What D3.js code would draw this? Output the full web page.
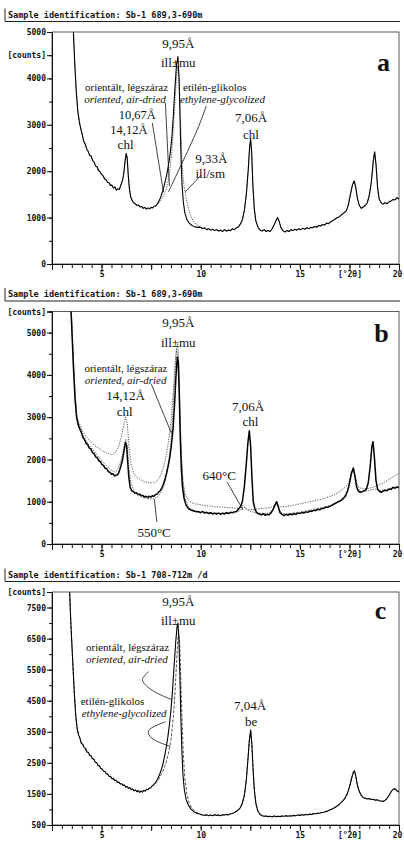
<!DOCTYPE html>
<html>
<head>
<meta charset="utf-8">
<script src="https://cdn.jsdelivr.net/npm/d3@7"></script>
<style>
  body { margin: 0; background: #fff; }
  svg { display: block; }
  .head { font-family: "DejaVu Sans Mono", monospace; font-size: 8.5px; font-weight: bold; fill: #111; }
  .ax text { font-family: "DejaVu Sans Mono", monospace; font-size: 8px; font-weight: bold; fill: #111; }
  .ann { font-family: "Liberation Serif", "Times New Roman", serif; fill: #111; }
</style>
</head>
<body>
<svg id="chart" width="404" height="841"></svg>
<script>
// ---- data: [°2θ, counts] ----

// panel a: Sb-1 689,3-690m, air-dried vs glycolized
const aLow = [[2.7,14000],[3.1,9500],[3.4,6600],[3.55,5300],[3.65,4300],[3.72,3750],[3.8,3300],[3.88,3060],[3.95,2920],[4.02,2800],[4.1,2640],[4.18,2580],[4.25,2480],[4.32,2430],[4.4,2340],[4.47,2330],[4.55,2230],[4.62,2200],[4.7,2110],[4.78,2090],[4.85,2010],[4.92,1990],[5.0,1930],[5.08,1900],[5.15,1830],[5.22,1820],[5.3,1760],[5.38,1750],[5.45,1690],[5.52,1700],[5.6,1640],[5.68,1660],[5.75,1590],[5.82,1620],[5.9,1610],[5.97,1700],[6.05,1790],[6.12,1950],[6.18,2200],[6.24,2380],[6.29,2300],[6.34,1950],[6.4,1640],[6.46,1460],[6.54,1370],[6.62,1320],[6.7,1300],[6.78,1260],[6.86,1270],[6.94,1230],[7.02,1240],[7.1,1200],[7.18,1220],[7.26,1180],[7.34,1210],[7.42,1190],[7.5,1220],[7.58,1210],[7.66,1250],[7.74,1250],[7.82,1300]];
const aAirPeak = [[7.9,1360],[7.98,1440],[8.06,1540],[8.14,1660],[8.22,1800],[8.3,1950],[8.38,2150],[8.46,2380],[8.54,2700],[8.62,3200],[8.7,3800],[8.78,4300],[8.85,4470],[8.91,4000],[8.96,3100],[9.01,2250],[9.06,1700],[9.12,1350],[9.2,1100],[9.3,960],[9.42,880],[9.56,830],[9.7,800],[9.85,790]];
const aGlyPeak = [[7.9,1320],[7.98,1370],[8.06,1420],[8.14,1480],[8.22,1560],[8.3,1680],[8.38,1850],[8.46,2080],[8.54,2400],[8.62,2900],[8.7,3500],[8.78,4050],[8.85,4250],[8.92,3850],[8.98,3100],[9.04,2400],[9.1,1900],[9.17,1650],[9.25,1450],[9.35,1250],[9.47,1070],[9.6,940],[9.75,860],[9.9,820]];
const aHigh = [[10.0,790],[10.1,760],[10.2,780],[10.3,740],[10.4,760],[10.5,730],[10.6,750],[10.7,720],[10.8,740],[10.9,710],[11.0,730],[11.1,700],[11.2,740],[11.3,710],[11.4,730],[11.5,720],[11.6,760],[11.7,740],[11.8,780],[11.9,800],[12.0,860],[12.1,950],[12.2,1150],[12.3,1500],[12.4,2050],[12.47,2550],[12.52,2680],[12.57,2400],[12.63,1700],[12.7,1200],[12.78,930],[12.9,780],[13.0,730],[13.1,710],[13.2,740],[13.3,700],[13.4,720],[13.5,700],[13.6,760],[13.7,840],[13.8,940],[13.88,1000],[13.95,930],[14.05,780],[14.15,720],[14.25,690],[14.35,720],[14.45,700],[14.55,740],[14.65,720],[14.75,750],[14.85,730],[14.95,760],[15.05,740],[15.15,770],[15.25,750],[15.35,780],[15.45,760],[15.55,790],[15.65,780],[15.75,810],[15.85,790],[15.95,830],[16.05,820],[16.15,850],[16.25,840],[16.35,880],[16.45,870],[16.55,910],[16.65,930],[16.75,960],[16.85,990],[16.95,1010],[17.05,1040],[17.15,1080],[17.25,1110],[17.35,1150],[17.45,1280],[17.55,1500],[17.65,1700],[17.74,1790],[17.82,1650],[17.9,1420],[18.0,1260],[18.1,1200],[18.2,1230],[18.3,1260],[18.4,1320],[18.5,1480],[18.6,1750],[18.7,2200],[18.77,2420],[18.84,2150],[18.92,1650],[19.0,1400],[19.1,1320],[19.2,1290],[19.3,1320],[19.4,1300],[19.5,1340],[19.6,1360],[19.7,1390],[19.8,1380],[19.9,1430],[20.0,1400]];

// panel b: Sb-1 689,3-690m, air-dried vs heated
const bAir = [[2.7,14000],[3.1,9500],[3.35,6600],[3.48,5300],[3.58,4200],[3.66,3450],[3.74,3000],[3.82,2820],[3.9,2720],[3.98,2640],[4.06,2520],[4.14,2470],[4.22,2380],[4.3,2350],[4.38,2270],[4.46,2250],[4.54,2160],[4.62,2140],[4.7,2060],[4.78,2040],[4.86,1970],[4.94,1950],[5.02,1880],[5.1,1860],[5.18,1790],[5.26,1780],[5.34,1710],[5.42,1700],[5.5,1650],[5.58,1660],[5.66,1610],[5.74,1630],[5.82,1640],[5.9,1730],[5.98,1850],[6.06,2000],[6.13,2200],[6.2,2400],[6.26,2330],[6.31,2000],[6.37,1600],[6.44,1350],[6.52,1260],[6.6,1240],[6.68,1200],[6.76,1210],[6.84,1170],[6.92,1180],[7.0,1140],[7.08,1150],[7.16,1110],[7.24,1130],[7.32,1100],[7.4,1130],[7.48,1110],[7.56,1140],[7.64,1130],[7.72,1170],[7.8,1180],[7.88,1230],[7.96,1260],[8.04,1330],[8.12,1420],[8.2,1530],[8.28,1680],[8.36,1850],[8.44,2050],[8.52,2330],[8.6,2700],[8.68,3300],[8.75,3950],[8.82,4420],[8.87,4300],[8.92,3500],[8.97,2500],[9.02,1800],[9.08,1350],[9.16,1080],[9.26,920],[9.38,840],[9.52,800],[9.66,780],[9.8,760],[9.9,760],[10.0,740],[10.1,770],[10.2,730],[10.3,750],[10.4,720],[10.5,740],[10.6,710],[10.7,730],[10.8,710],[10.9,730],[11.0,700],[11.1,730],[11.2,710],[11.3,740],[11.4,720],[11.5,750],[11.6,740],[11.7,760],[11.8,770],[11.9,820],[12.0,880],[12.1,1000],[12.2,1350],[12.3,1900],[12.38,2400],[12.45,2680],[12.52,2300],[12.58,1600],[12.65,1000],[12.75,800],[12.85,730],[12.95,710],[13.05,690],[13.15,720],[13.25,680],[13.35,700],[13.45,690],[13.55,740],[13.65,820],[13.75,930],[13.83,1000],[13.9,900],[14.0,740],[14.1,700],[14.2,670],[14.3,700],[14.4,680],[14.5,710],[14.6,690],[14.7,720],[14.8,700],[14.9,730],[15.0,720],[15.1,750],[15.2,730],[15.3,760],[15.4,750],[15.5,780],[15.6,770],[15.7,800],[15.8,790],[15.9,820],[16.0,810],[16.1,840],[16.2,840],[16.3,870],[16.4,870],[16.5,890],[16.6,910],[16.7,940],[16.8,960],[16.9,990],[17.0,1010],[17.1,1040],[17.2,1080],[17.3,1130],[17.4,1250],[17.5,1420],[17.6,1680],[17.7,1800],[17.78,1600],[17.86,1350],[17.95,1250],[18.05,1220],[18.15,1240],[18.25,1260],[18.35,1290],[18.45,1450],[18.55,1850],[18.63,2300],[18.69,2420],[18.76,2050],[18.84,1500],[18.92,1300],[19.0,1250],[19.1,1220],[19.2,1250],[19.3,1270],[19.4,1260],[19.5,1300],[19.6,1290],[19.7,1340],[19.8,1320],[19.9,1350],[20.0,1330]];
const b550 = [[2.7,14000],[3.1,9500],[3.35,6700],[3.48,5400],[3.58,4300],[3.66,3550],[3.75,3000],[3.85,2830],[3.95,2720],[4.05,2580],[4.15,2500],[4.25,2420],[4.35,2350],[4.45,2300],[4.55,2230],[4.65,2180],[4.75,2110],[4.85,2060],[4.95,2000],[5.05,1950],[5.15,1900],[5.25,1850],[5.35,1800],[5.45,1760],[5.55,1730],[5.65,1710],[5.75,1730],[5.85,1800],[5.95,1930],[6.05,2100],[6.15,2350],[6.22,2480],[6.3,2300],[6.38,1800],[6.48,1450],[6.6,1300],[6.7,1230],[6.8,1180],[6.9,1150],[7.0,1120],[7.1,1100],[7.2,1090],[7.3,1080],[7.4,1070],[7.5,1070],[7.6,1080],[7.7,1090],[7.8,1110],[7.9,1150],[8.0,1220],[8.1,1320],[8.2,1480],[8.3,1700],[8.4,2000],[8.5,2450],[8.6,3100],[8.7,4000],[8.78,4650],[8.84,4750],[8.9,4200],[8.96,3100],[9.02,2200],[9.1,1500],[9.2,1100],[9.35,900],[9.5,830],[9.7,790],[9.9,770],[10.1,760],[10.3,740],[10.5,740],[10.7,730],[10.9,730],[11.1,720],[11.3,730],[11.5,740],[11.7,750],[11.9,770],[12.0,800],[12.1,860],[12.2,880],[12.3,820],[12.45,780],[12.6,760],[12.8,740],[13.0,730],[13.2,720],[13.4,730],[13.6,770],[13.75,900],[13.83,960],[13.92,860],[14.05,740],[14.2,720],[14.4,720],[14.6,730],[14.8,740],[15.0,750],[15.2,770],[15.4,790],[15.6,810],[15.8,830],[16.0,850],[16.2,870],[16.4,900],[16.6,930],[16.8,980],[17.0,1030],[17.2,1100],[17.4,1250],[17.55,1550],[17.68,1780],[17.78,1600],[17.9,1350],[18.05,1250],[18.25,1240],[18.45,1260],[18.65,1290],[18.85,1300],[19.05,1260],[19.25,1280],[19.45,1300],[19.65,1330],[19.85,1350],[20.0,1360]];
const b640 = [[2.7,14000],[3.1,9500],[3.35,6800],[3.48,5500],[3.58,4400],[3.66,3600],[3.75,3050],[3.85,2880],[3.95,2780],[4.05,2660],[4.15,2590],[4.25,2530],[4.35,2470],[4.45,2420],[4.55,2380],[4.65,2330],[4.75,2300],[4.85,2270],[4.95,2240],[5.05,2200],[5.15,2180],[5.25,2150],[5.35,2140],[5.45,2120],[5.55,2110],[5.65,2150],[5.75,2200],[5.85,2300],[5.95,2450],[6.05,2650],[6.15,2900],[6.22,3000],[6.3,2850],[6.38,2300],[6.48,1900],[6.6,1700],[6.7,1620],[6.8,1570],[6.9,1540],[7.0,1510],[7.1,1490],[7.2,1470],[7.3,1460],[7.4,1450],[7.5,1450],[7.6,1440],[7.7,1460],[7.8,1490],[7.9,1560],[8.0,1650],[8.1,1780],[8.2,1950],[8.3,2200],[8.4,2500],[8.5,2900],[8.6,3500],[8.7,4200],[8.78,4600],[8.84,4500],[8.9,3900],[8.96,2900],[9.02,2100],[9.1,1500],[9.2,1200],[9.35,1050],[9.5,990],[9.7,950],[9.9,940],[10.1,920],[10.3,900],[10.5,900],[10.7,880],[10.9,880],[11.1,870],[11.3,860],[11.5,860],[11.7,850],[11.9,850],[12.0,880],[12.08,930],[12.16,880],[12.3,830],[12.5,810],[12.7,820],[12.9,830],[13.1,840],[13.3,850],[13.5,860],[13.7,900],[13.83,960],[13.95,890],[14.1,880],[14.3,890],[14.5,900],[14.7,920],[14.9,940],[15.1,960],[15.3,980],[15.5,1000],[15.7,1020],[15.9,1040],[16.1,1060],[16.3,1090],[16.5,1120],[16.7,1160],[16.9,1210],[17.1,1270],[17.3,1350],[17.45,1450],[17.6,1650],[17.7,1750],[17.8,1600],[17.9,1400],[18.0,1330],[18.2,1310],[18.4,1310],[18.6,1330],[18.8,1360],[19.0,1400],[19.2,1450],[19.4,1500],[19.6,1560],[19.8,1620],[20.0,1670]];

// panel c: Sb-1 708-712m, air-dried vs glycolized
const cLow = [[2.7,22000],[3.1,13500],[3.3,9500],[3.45,7000],[3.55,5700],[3.63,4700],[3.7,4000],[3.77,3600],[3.84,3400],[3.91,3290],[3.98,3130],[4.05,3100],[4.12,2990],[4.19,2960],[4.26,2850],[4.33,2840],[4.4,2740],[4.47,2730],[4.54,2630],[4.61,2620],[4.68,2520],[4.75,2510],[4.82,2420],[4.89,2410],[4.96,2320],[5.03,2300],[5.1,2230],[5.17,2220],[5.24,2140],[5.31,2140],[5.38,2060],[5.45,2070],[5.52,1990],[5.59,2000],[5.66,1930],[5.73,1940],[5.8,1870],[5.87,1880],[5.94,1820],[6.01,1830],[6.08,1770],[6.15,1790],[6.22,1720],[6.29,1740],[6.36,1680],[6.43,1700],[6.5,1640],[6.57,1660],[6.64,1600],[6.71,1630],[6.78,1570],[6.85,1610],[6.92,1550],[6.99,1600],[7.06,1560],[7.13,1620],[7.2,1590],[7.27,1650],[7.34,1640],[7.41,1690],[7.48,1700],[7.55,1760],[7.62,1790]];
const cAirPeak = [[7.7,1850],[7.78,1930],[7.86,2030],[7.94,2150],[8.02,2300],[8.1,2480],[8.18,2720],[8.26,3000],[8.34,3320],[8.42,3720],[8.5,4200],[8.58,4850],[8.66,5650],[8.74,6400],[8.8,6850],[8.85,7000],[8.9,6500],[8.95,5300],[9.0,3950],[9.05,2900],[9.1,2150],[9.17,1650],[9.26,1330],[9.37,1150],[9.5,1020],[9.65,930],[9.8,880],[9.92,860]];
const cGlyPeak = [[7.7,1830],[7.78,1890],[7.86,1960],[7.94,2040],[8.02,2130],[8.1,2240],[8.18,2380],[8.26,2530],[8.34,2720],[8.42,2950],[8.5,3250],[8.58,3700],[8.66,4300],[8.74,5200],[8.82,6200],[8.88,6750],[8.94,6350],[9.0,5100],[9.06,3850],[9.12,2800],[9.2,2000],[9.3,1500],[9.42,1200],[9.56,1040],[9.72,940],[9.88,880]];
const cHigh = [[10.0,840],[10.1,820],[10.2,810],[10.3,830],[10.4,800],[10.5,820],[10.6,800],[10.7,830],[10.8,810],[10.9,820],[11.0,800],[11.1,830],[11.2,820],[11.3,840],[11.4,830],[11.5,860],[11.6,870],[11.7,900],[11.8,940],[11.9,990],[12.0,1060],[12.1,1200],[12.2,1450],[12.3,1950],[12.38,2600],[12.45,3200],[12.52,3560],[12.58,3100],[12.64,2300],[12.7,1650],[12.78,1200],[12.88,950],[13.0,840],[13.1,800],[13.2,780],[13.3,790],[13.4,770],[13.5,780],[13.6,760],[13.7,790],[13.8,770],[13.9,780],[14.0,770],[14.1,790],[14.2,780],[14.3,800],[14.4,780],[14.5,800],[14.6,790],[14.7,810],[14.8,800],[14.9,820],[15.0,810],[15.1,830],[15.2,820],[15.3,840],[15.4,830],[15.5,850],[15.6,840],[15.7,870],[15.8,860],[15.9,880],[16.0,880],[16.1,900],[16.2,910],[16.3,930],[16.4,950],[16.5,980],[16.6,1010],[16.7,1040],[16.8,1080],[16.9,1120],[17.0,1170],[17.1,1230],[17.2,1300],[17.3,1390],[17.4,1520],[17.5,1720],[17.6,1980],[17.7,2200],[17.76,2240],[17.83,2050],[17.9,1780],[18.0,1580],[18.1,1450],[18.2,1380],[18.3,1360],[18.4,1340],[18.5,1350],[18.6,1320],[18.7,1330],[18.8,1300],[18.9,1310],[19.0,1280],[19.1,1270],[19.2,1260],[19.3,1290],[19.4,1360],[19.5,1460],[19.6,1570],[19.7,1650],[19.8,1670],[19.9,1600],[20.0,1560]];

// tick labels
const xLabelled = [5, 10, 15, 17.5, 20];
const xUnitLabel = "[°2θ]";
const aYLabels = [0, 1000, 2000, 3000, 4000, 5000];
const bYLabels = [0, 1000, 2000, 3000, 4000, 5000];
const cYLabels = [500, 1500, 2500, 3500, 4500, 5500, 6500, 7500];
const countsLabel = "[counts]";

// ---- layout ----
const left = 52, right = 399;
const svg = d3.select("#chart");
const x = d3.scaleLinear().domain([2.5, 20]).range([left, right]);

const panels = [
  {
    id: "a", header: "Sample identification: Sb-1 689,3-690m",
    top: 32, bottom: 264, yDomain: [0, 5000], yLabels: aYLabels, countsAt: 4500,
    series: [
      { data: aLow.concat(aGlyPeak, aHigh), dash: "1.2,1.3" },
      { data: aLow.concat(aAirPeak, aHigh), dash: null, w: 1.1 }
    ],
    labels: [
      { t: "9,95Å", v: 8.87, c: 4655 }, { t: "ill±mu", v: 8.87, c: 4246 },
      { t: "a", v: 19.22, c: 4160, bold: true },
      { t: "orientált, légszáraz", v: 6.26, c: 3728, s: 11 },
      { t: "oriented, air-dried", v: 6.18, c: 3480, s: 11, it: true },
      { t: "etilén-glikolos", v: 10.71, c: 3739, s: 11 },
      { t: "ethylene-glycolized", v: 11.1, c: 3480, s: 11, it: true },
      { t: "10,67Å", v: 6.8, c: 3125, s: 12.5 },
      { t: "14,12Å", v: 6.38, c: 2805, s: 12.5 }, { t: "chl", v: 6.21, c: 2478 },
      { t: "7,06Å", v: 12.54, c: 3071 }, { t: "chl", v: 12.53, c: 2694 },
      { t: "9,33Å", v: 10.53, c: 2187 }, { t: "ill/sm", v: 10.48, c: 1864 }
    ],
    pointers: [
      [[8.22, 3470], [8.42, 1681]],
      [[7.56, 3039], [8.12, 1552]],
      [[10.28, 3405], [9.82, 2888], [8.37, 1552]],
      [[10.03, 1918], [9.22, 1552]]
    ]
  },
  {
    id: "b", header: "Sample identification: Sb-1 689,3-690m",
    top: 311.5, bottom: 544, yDomain: [0, 5500], yLabels: bYLabels, countsAt: 5500,
    series: [
      { data: b640, dash: "1.2,1.3" },
      { data: b550, dash: "1.2,1.3" },
      { data: bAir, dash: null, w: 1.5 }
    ],
    labels: [
      { t: "9,95Å", v: 8.87, c: 5138 }, { t: "ill±mu", v: 8.87, c: 4666 },
      { t: "b", v: 19.12, c: 4779, bold: true },
      { t: "orientált, légszáraz", v: 6.23, c: 4075, s: 11 },
      { t: "oriented, air-dried", v: 6.21, c: 3792, s: 11, it: true },
      { t: "14,12Å", v: 6.21, c: 3395 }, { t: "chl", v: 6.16, c: 3030 },
      { t: "7,06Å", v: 12.39, c: 3142 }, { t: "chl", v: 12.51, c: 2788 },
      { t: "640°C", v: 10.93, c: 1524 }, { t: "550°C", v: 7.65, c: 170 }
    ],
    pointers: [
      [[7.51, 3780], [8.52, 2622]],
      [[11.33, 1465], [12.14, 803]],
      [[7.79, 520], [7.66, 1063]]
    ]
  },
  {
    id: "c", header: "Sample identification: Sb-1 708-712m /d",
    top: 592, bottom: 825, yDomain: [500, 8000], yLabels: cYLabels, countsAt: 8000,
    series: [
      { data: cLow.concat(cGlyPeak, cHigh), dash: "3,1.6" },
      { data: cLow.concat(cAirPeak, cHigh), dash: null, w: 1.1 }
    ],
    labels: [
      { t: "9,95Å", v: 8.87, c: 7565 }, { t: "ill±mu", v: 8.87, c: 6935 },
      { t: "c", v: 19.07, c: 7135, bold: true },
      { t: "orientált, légszáraz", v: 6.31, c: 6113, s: 11 },
      { t: "oriented, air-dried", v: 6.28, c: 5710, s: 11, it: true },
      { t: "etilén-glikolos", v: 5.55, c: 4355, s: 11 },
      { t: "ethylene-glycolized", v: 6.14, c: 3984, s: 11, it: true },
      { t: "7,04Å", v: 12.49, c: 4210 }, { t: "be", v: 12.54, c: 3700 }
    ],
    pointers: [
      [[7.38, 5442], [7.06, 5177], [7.31, 4952], [7.86, 4726], [8.55, 4532]],
      [[8.22, 3823], [7.36, 3532], [7.51, 3306], [8.47, 3026]]
    ]
  }
];

panels.forEach(p => {
  const y = d3.scaleLinear().domain(p.yDomain).range([p.bottom, p.top]);
  const g = svg.append("g").attr("class", "panel-" + p.id);

  // header strip
  const hy = p.top - 10.5;
  g.append("line").attr("x1", 5).attr("x2", 400).attr("y1", hy).attr("y2", hy)
    .attr("stroke", "#222").attr("stroke-width", 1);
  g.append("line").attr("x1", 5).attr("x2", 5).attr("y1", hy - 13).attr("y2", hy)
    .attr("stroke", "#222").attr("stroke-width", 1);
  g.append("text").attr("class", "head").attr("x", 8).attr("y", hy - 4).text(p.header);

  // frame
  g.append("rect").attr("x", left).attr("y", p.top)
    .attr("width", right - left).attr("height", p.bottom - p.top)
    .attr("fill", "none").attr("stroke", "#333").attr("stroke-width", 0.8);

  // x axis: minor every 0.5, longer every 2.5
  const minorX = d3.range(2.5, 20.001, 0.5);
  g.append("g").attr("class", "ax").attr("transform", `translate(0,${p.bottom})`)
    .call(d3.axisBottom(x).tickValues(minorX).tickSize(4).tickFormat(""));
  const xAx = g.append("g").attr("class", "ax").attr("transform", `translate(0,${p.bottom})`)
    .call(d3.axisBottom(x).tickValues(d3.range(2.5, 20.001, 2.5)).tickSize(6).tickPadding(1.5)
      .tickFormat(d => xLabelled.includes(d) ? (d === 17.5 ? xUnitLabel : String(d)) : ""));
  xAx.selectAll(".tick text").filter(d => d === 20).attr("dx", "-2");

  // y axis
  const step = 500;
  const minorY = d3.range(p.yDomain[0], p.yDomain[1] + 1, step);
  g.append("g").attr("class", "ax").attr("transform", `translate(${left},0)`)
    .call(d3.axisLeft(y).tickValues(minorY).tickSize(3).tickFormat(""));
  g.append("g").attr("class", "ax").attr("transform", `translate(${left},0)`)
    .call(d3.axisLeft(y).tickValues(p.yLabels.concat([p.countsAt])).tickSize(5).tickPadding(1)
      .tickFormat(d => d === p.countsAt ? countsLabel : String(d)));
  g.selectAll(".ax .domain").attr("stroke", "#111").attr("stroke-width", 1);
  g.selectAll(".ax line").attr("stroke", "#111");

  // curves
  g.append("clipPath").attr("id", "clip-" + p.id).append("rect")
    .attr("x", left).attr("y", p.top).attr("width", right - left).attr("height", p.bottom - p.top);
  const line = d3.line().x(d => x(d[0])).y(d => y(d[1]));
  const curves = g.append("g").attr("clip-path", `url(#clip-${p.id})`);
  p.series.forEach(s => {
    curves.append("path").datum(s.data).attr("d", line).attr("fill", "none")
      .attr("stroke", s.dash ? "#555" : "#000")
      .attr("stroke-width", s.dash ? 1 : s.w)
      .attr("stroke-dasharray", s.dash)
      .attr("stroke-linejoin", "round");
  });

  // pointers
  const ptr = d3.line().x(d => x(d[0])).y(d => y(d[1])).curve(d3.curveCatmullRom);
  p.pointers.forEach(pt => {
    g.append("path").datum(pt).attr("d", ptr).attr("fill", "none")
      .attr("stroke", "#111").attr("stroke-width", 0.8);
  });

  // labels
  p.labels.forEach(l => {
    g.append("text").attr("class", "ann")
      .attr("x", x(l.v)).attr("y", y(l.c)).attr("text-anchor", "middle")
      .style("font-size", (l.bold ? 26 : (l.s || 13)) + "px")
      .style("font-weight", l.bold ? "bold" : "normal")
      .style("font-style", l.it ? "italic" : "normal")
      .text(l.t);
  });
});
</script>
</body>
</html>
